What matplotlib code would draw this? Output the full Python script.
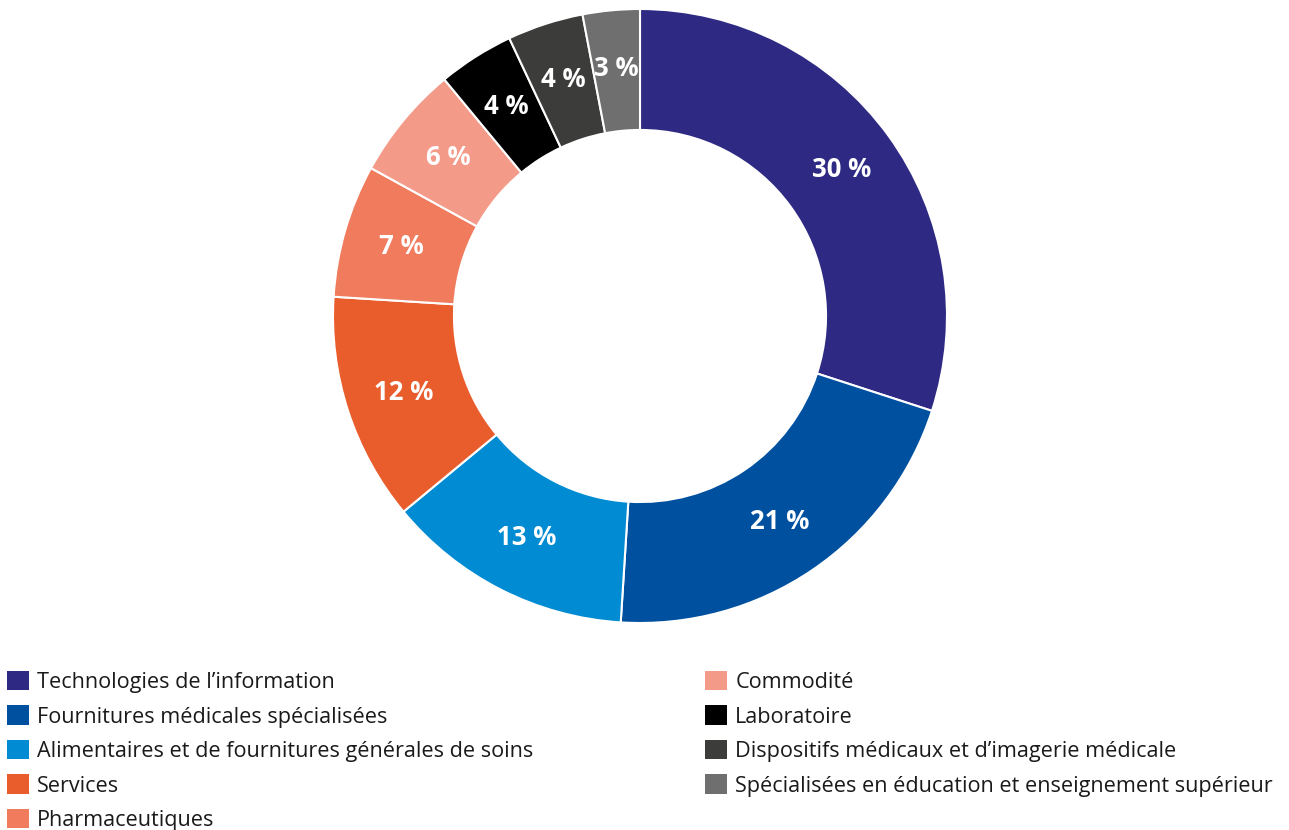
import numpy as np
import matplotlib
matplotlib.use('Agg')
import matplotlib.pyplot as plt
from matplotlib.patches import Patch

plt.rcParams['font.family'] = ['Open Sans', 'DejaVu Sans']

categories = ['Technologies de l\u2019information',
              'Fournitures médicales spécialisées',
              'Alimentaires et de fournitures générales de soins',
              'Services',
              'Pharmaceutiques',
              'Commodité',
              'Laboratoire',
              'Dispositifs médicaux et d\u2019imagerie médicale',
              'Spécialisées en éducation et enseignement supérieur']
values = [30, 21, 13, 12, 7, 6, 4, 4, 3]
colors = ['#2E2A83', '#0050A0', '#008BD2', '#E95C2B', '#F07B5D',
          '#F39A88', '#000000', '#3C3C3B', '#6F6F6F']

W, H = 1289, 830
fig = plt.figure(figsize=(W / 100, H / 100), dpi=100)

cx, cy, r = 640, 316, 307
ax = fig.add_axes([(cx - r) / W, (H - cy - r) / H, 2 * r / W, 2 * r / H])

wedges, texts, autotexts = ax.pie(
    values, colors=colors, startangle=90, counterclock=False,
    radius=1, autopct=lambda p: '%d %%' % round(p), pctdistance=0.81,
    wedgeprops=dict(width=0.394, edgecolor='white', linewidth=1.5),
    textprops=dict(color='white', fontsize=18.5, fontweight='bold'))
ax.set_xlim(-1, 1)
ax.set_ylim(-1, 1)
ax.set_aspect('equal')
ax.axis('off')

handles = [Patch(facecolor=c, edgecolor='none') for c in colors]

leg_kw = dict(frameon=False, fontsize=15.6, handlelength=1.0, handleheight=1.0,
              handletextpad=0.4, labelspacing=0.57, borderpad=0, borderaxespad=0,
              loc='upper left')
leg1 = fig.legend(handles[:5], categories[:5],
                  bbox_to_anchor=(7 / W, 1 - 671 / H), **leg_kw)
leg2 = fig.legend(handles[5:], categories[5:],
                  bbox_to_anchor=(705 / W, 1 - 671 / H), **leg_kw)
for leg in (leg1, leg2):
    for t in leg.get_texts():
        t.set_color('#1a1a1a')

fig.savefig('out.png', dpi=100)
